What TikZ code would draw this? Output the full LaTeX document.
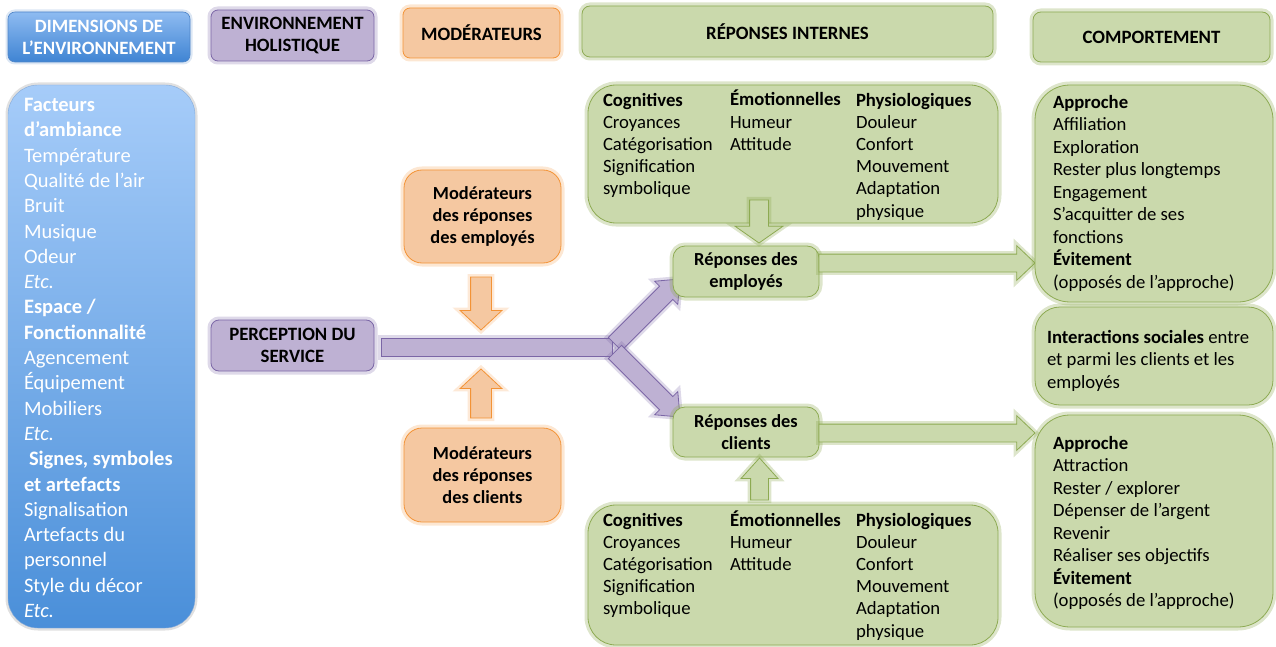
\documentclass[tikz,border=0pt]{standalone}
\usepackage{fontspec}
\setmainfont{Carlito}
\usetikzlibrary{shapes.arrows}
\definecolor{pfill}{HTML}{BEB1D3}
\definecolor{pdraw}{HTML}{7B66A6}
\definecolor{ofill}{HTML}{F5C8A1}
\definecolor{odraw}{HTML}{F39336}
\definecolor{gfill}{HTML}{CAD9AC}
\definecolor{gdraw}{HTML}{8DAA52}
\definecolor{btop}{HTML}{A6CCF9}
\definecolor{bbot}{HTML}{4A8FD9}
\definecolor{htop}{HTML}{8EBBF1}
\definecolor{hbot}{HTML}{3F84D3}
\definecolor{bdraw}{HTML}{4F85C8}
\begin{document}
\begin{tikzpicture}[x=1pt,y=-1pt,
  every node/.style={inner sep=0pt, outer sep=0pt},
  pbox/.style={draw=pdraw, fill=pfill, line width=0.8pt, preaction={draw=pdraw, line width=7pt, opacity=0.25}},
  obox/.style={draw=odraw, fill=ofill, line width=0.8pt, preaction={draw=odraw, line width=7pt, opacity=0.22}},
  gbox/.style={draw=gdraw, fill=gfill, line width=0.8pt, preaction={draw=gdraw, line width=7pt, opacity=0.3}},
  bhead/.style={draw=bdraw, top color=htop, bottom color=hbot, line width=0.6pt, preaction={draw=bdraw, line width=5pt, opacity=0.2}},
  hfont/.style={align=center, font=\fontsize{18.8}{22}\selectfont\bfseries},
  bfont/.style={align=center, font=\fontsize{18.4}{22}\selectfont\bfseries},
  btxt/.style={text=white, align=left, font=\fontsize{20.5}{25.3}\selectfont},
  gtxt/.style={align=left, font=\fontsize{18.7}{22.2}\selectfont},
  rtxt/.style={align=left, font=\fontsize{18.7}{22.5}\selectfont},
  parrow/.style={single arrow, inner xsep=0pt, draw=pdraw, fill=pfill, line width=0.8pt, preaction={draw=pdraw, line width=6pt, opacity=0.25}},
  oarrow/.style={single arrow, inner xsep=0pt, draw=odraw, fill=ofill, line width=0.8pt, preaction={draw=odraw, line width=6pt, opacity=0.2}},
  garrow/.style={single arrow, inner xsep=0pt, draw=gdraw, fill=gfill, line width=0.8pt, preaction={draw=gdraw, line width=6pt, opacity=0.3}}
]
\useasboundingbox (0,0) rectangle (1276,647);

% ---- headers
\node[bhead, rounded corners=7pt, minimum width=182pt, minimum height=50pt, text=white, hfont] (hdim) at (99,37) {DIMENSIONS DE\\L’ENVIRONNEMENT};
\node[pbox, rounded corners=7pt, minimum width=163pt, minimum height=51pt, hfont] (hhol) at (292.5,35.5) {ENVIRONNEMENT\\HOLISTIQUE};
\node[obox, rounded corners=7pt, minimum width=157pt, minimum height=50pt, hfont] (hmod) at (481.5,33) {MODÉRATEURS};
\node[gbox, rounded corners=8pt, minimum width=411pt, minimum height=51pt, hfont] (hrep) at (787.5,31.5) {RÉPONSES INTERNES};
\node[gbox, rounded corners=8pt, minimum width=237pt, minimum height=50pt, hfont] (hcomp) at (1151.5,37) {COMPORTEMENT};

% ---- left dimensions box
\node[draw=bdraw!70, line width=0.4pt, top color=btop, bottom color=bbot, rounded corners=30pt, minimum width=187pt, minimum height=543pt,
      preaction={draw=black, line width=5pt, opacity=0.12}] (dim) at (101.5,356.5) {};
\node[btxt, anchor=base west] (dimtxt) at (24,617.5) {\textbf{Facteurs}\\
\textbf{d’ambiance}\\
Température\\
Qualité de l’air\\
Bruit\\
Musique\\
Odeur\\
\textit{Etc.}\\
\textbf{Espace /}\\
\textbf{Fonctionnalité}\\
Agencement\\
Équipement\\
Mobiliers\\
\textit{Etc.}\\
\hspace*{5pt}\textbf{Signes, symboles}\\
\textbf{et artefacts}\\
Signalisation\\
Artefacts du\\
personnel\\
Style du décor\\
\textit{Etc.}};

% ---- perception + shaft
\node[pbox, rounded corners=8pt, minimum width=163pt, minimum height=51pt, hfont] (perc) at (292.5,345.5) {PERCEPTION DU\\SERVICE};
\node[pbox, minimum width=231pt, minimum height=18pt] (shaft) at (496.5,347) {};

% ---- moderators
\node[obox, rounded corners=18pt, minimum width=157pt, minimum height=93pt, bfont] (modE) at (482.5,216.5) {Modérateurs\\des réponses\\des employés};
\node[obox, rounded corners=18pt, minimum width=157pt, minimum height=94pt, bfont] (modC) at (482.5,475) {Modérateurs\\des réponses\\des clients};
\node[oarrow, rotate=-90, anchor=tip, inner ysep=10pt, minimum height=53pt, single arrow head extend=10.5pt, single arrow tip angle=94] (amodE) at (481,330) {};
\node[oarrow, rotate=90, anchor=tip, inner ysep=10pt, minimum height=49pt, single arrow head extend=10.5pt, single arrow tip angle=94] (amodC) at (481,369) {};

% ---- fork arrows
\node[parrow, rotate=45, anchor=tip, inner ysep=9pt, minimum height=92pt, single arrow head extend=7pt, single arrow tip angle=80] (forkE) at (680,279) {};
\node[parrow, rotate=-45, anchor=tip, inner ysep=9pt, minimum height=92pt, single arrow head extend=7pt, single arrow tip angle=80] (forkC) at (680,417) {};

% ---- internal responses
\node[gbox, rounded corners=28pt, minimum width=410pt, minimum height=138pt] (intE) at (793,154) {};
\node[gbox, rounded corners=28pt, minimum width=410pt, minimum height=140pt] (intC) at (793,575) {};
\node[gtxt, anchor=base west] (intE1) at (603,194.8) {\textbf{Cognitives}\\Croyances\\Catégorisation\\Signification\\symbolique};
\node[gtxt, anchor=base west] (intE2) at (730,150.4) {\textbf{Émotionnelles}\\Humeur\\Attitude};
\node[gtxt, anchor=base west] (intE3) at (856,217) {\textbf{Physiologiques}\\Douleur\\Confort\\Mouvement\\Adaptation\\physique};
\node[gtxt, anchor=base west] (intC1) at (603,614.8) {\textbf{Cognitives}\\Croyances\\Catégorisation\\Signification\\symbolique};
\node[gtxt, anchor=base west] (intC2) at (730,570.4) {\textbf{Émotionnelles}\\Humeur\\Attitude};
\node[gtxt, anchor=base west] (intC3) at (856,637) {\textbf{Physiologiques}\\Douleur\\Confort\\Mouvement\\Adaptation\\physique};

\node[gbox, rounded corners=12pt, minimum width=146pt, minimum height=51pt, bfont] (repE) at (746,271.5) {Réponses des\\employés};
\node[gbox, rounded corners=12pt, minimum width=146pt, minimum height=50pt, bfont] (repC) at (746,432) {Réponses des\\clients};
\node[garrow, rotate=-90, anchor=tip, inner ysep=9pt, minimum height=43pt, single arrow head extend=14.5pt, single arrow tip angle=110] (aintE) at (759,243) {};
\node[garrow, rotate=90, anchor=tip, inner ysep=8.5pt, minimum height=42pt, single arrow head extend=9.5pt, single arrow tip angle=84] (aintC) at (759.5,458) {};

% ---- behaviour arrows
\node[garrow, anchor=tip, inner ysep=8.5pt, minimum height=216pt, single arrow head extend=8.5pt, single arrow tip angle=87] (aE) at (1035,263) {};
\node[garrow, anchor=tip, inner ysep=8.5pt, minimum height=216pt, single arrow head extend=8.5pt, single arrow tip angle=87] (aC) at (1035,433) {};

% ---- behaviour boxes
\node[gbox, rounded corners=35pt, minimum width=238pt, minimum height=217pt] (compE) at (1154,193.5) {};
\node[gbox, rounded corners=25pt, minimum width=238pt, minimum height=98pt] (inter) at (1154,356) {};
\node[gbox, rounded corners=35pt, minimum width=238pt, minimum height=212pt] (compC) at (1154,521) {};
\node[rtxt, anchor=base west] (compEt) at (1053,288) {\textbf{Approche}\\Affiliation\\Exploration\\Rester plus longtemps\\Engagement\\S’acquitter de ses\\fonctions\\\textbf{Évitement}\\(opposés de l’approche)};
\node[rtxt, anchor=base west] (intert) at (1047,388) {\textbf{Interactions sociales} entre\\et parmi les clients et les\\employés};
\node[rtxt, anchor=base west] (compCt) at (1053,606.5) {\textbf{Approche}\\Attraction\\Rester / explorer\\Dépenser de l’argent\\Revenir\\Réaliser ses objectifs\\\textbf{Évitement}\\(opposés de l’approche)};
\end{tikzpicture}
\end{document}
